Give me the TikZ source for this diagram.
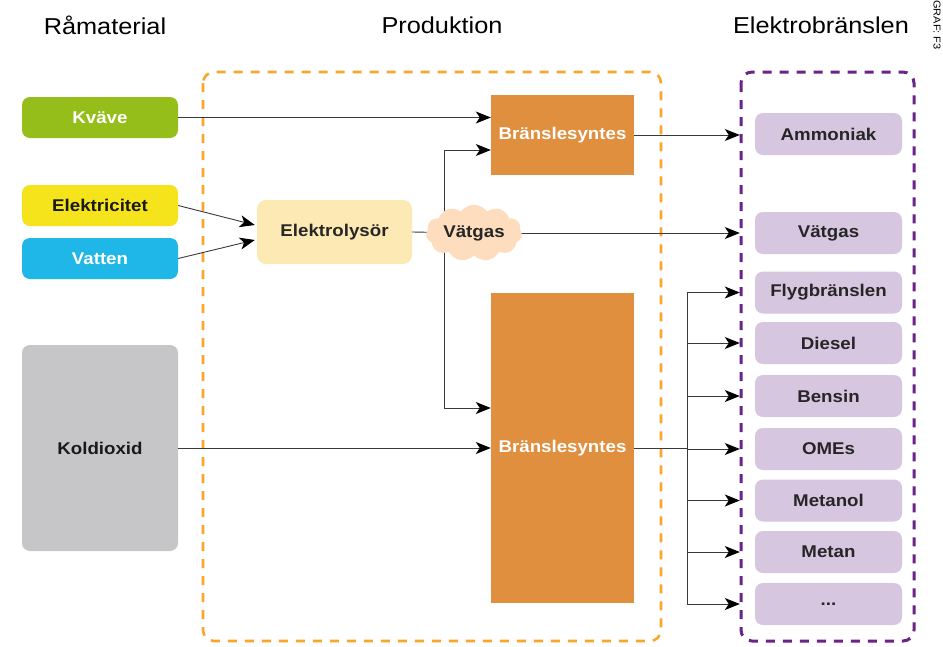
\documentclass[tikz,border=0pt]{standalone}
\usepackage{fontspec}
\setmainfont{Liberation Sans}[FakeStretch=1.1]
\usetikzlibrary{arrows.meta,shapes.symbols,calc}
\definecolor{cgreen}{HTML}{95BE1A}
\definecolor{cyellow}{HTML}{F5E41C}
\definecolor{cblue}{HTML}{1FB7E8}
\definecolor{cgrey}{HTML}{C6C6C8}
\definecolor{celyt}{HTML}{FDE9B4}
\definecolor{ccloud}{HTML}{FDDDBE}
\definecolor{corange}{HTML}{E08F3E}
\definecolor{cpurple}{HTML}{D7C6DF}
\definecolor{cdashor}{HTML}{F9A62B}
\definecolor{cdashpu}{HTML}{6B2387}
\definecolor{cline}{HTML}{3A3A3A}
\tikzset{
  lbl/.style={font=\fontsize{17}{20}\selectfont\bfseries},
  title/.style={font=\fontsize{23}{27}\selectfont},
  srcbox/.style={lbl, draw=none, rounded corners=8pt, minimum width=156pt, minimum height=41pt, inner sep=0pt},
  outbox/.style={lbl, text=black!85, fill=cpurple, rounded corners=8pt, minimum width=147pt, minimum height=42pt, inner sep=0pt},
  synbox/.style={lbl, text=white, fill=corange, minimum width=143pt, inner sep=0pt},
  conn/.style={draw=cline, line width=0.9pt},
  arr/.style={conn, -{Stealth[length=15pt,width=12pt,inset=4pt,color=black,fill=black]}},
  frame/.style={line width=3pt, dash pattern=on 9pt off 8pt, rounded corners=11pt},
}
\begin{document}
\begin{tikzpicture}[x=1pt,y=-1pt]
\useasboundingbox[fill=white] (0,0) rectangle (943,646);

% titles
\node[title] (t1) at (105,25) {Råmaterial};
\node[title] (t2) at (442,25) {Produktion};
\node[title] (t3) at (821,25) {Elektrobränslen};
\node[font=\fontsize{10}{12}\selectfont, rotate=-90] (graf) at (937,25) {GRAF: F3};

% frames
\draw[frame, draw=cdashor, line width=2.6pt] (203,72) rectangle (661,641);
\draw[frame, draw=cdashpu] (741,72) rectangle (914,641);

% sources
\node[srcbox, fill=cgreen, text=white] (kv) at (100,117.5) {Kväve};
\node[srcbox, fill=cyellow, text=black!90] (el) at (100,205.5) {Elektricitet};
\node[srcbox, fill=cblue, text=white] (va) at (100,258.5) {Vatten};
\node[srcbox, fill=cgrey, text=black!90, minimum height=206pt] (ko) at (100,448) {Koldioxid};

% production
\node[lbl, fill=celyt, text=black!85, rounded corners=9pt, minimum width=155pt, minimum height=64pt, inner sep=0pt] (ely) at (334.5,232) {Elektrolysör};
\node[synbox, minimum height=80pt] (bs1) at (562.5,135) {Bränslesyntes};
\node[synbox, minimum height=310pt] (bs2) at (562.5,448) {Bränslesyntes};

% outputs
\node[outbox] (amm) at (828.5,134) {Ammoniak};
\node[outbox] (vg) at (828.5,233) {Vätgas};
\node[outbox] (fly) at (828.5,292.5) {Flygbränslen};
\node[outbox] (die) at (828.5,343) {Diesel};
\node[outbox] (ben) at (828.5,396) {Bensin};
\node[outbox] (ome) at (828.5,449) {OMEs};
\node[outbox] (mol) at (828.5,500.5) {Metanol};
\node[outbox] (met) at (828.5,552) {Metan};
\node[outbox] (dots) at (828.5,604) {...};

% junction coordinates
\coordinate (jt) at (444,150);
\coordinate (jb) at (444,408);
\coordinate (sp) at (687,448);
\coordinate (vc) at (474,233);

% connectors behind cloud
\draw[conn] (ely.east) -- (vc);
\draw[conn] (jt) -- (jb);
\draw[arr, shorten >=15pt] (vc) -- (vc -| vg.west);

% cloud
\node[cloud, cloud puffs=11, cloud puff arc=110, aspect=1.9, fill=ccloud, draw=none, lbl, text=black!85, minimum width=96pt, minimum height=56pt, inner sep=0pt] (cl) at (vc) {Vätgas};

% inputs
\draw[arr] (kv.east) -- (kv.east -| bs1.west);
\draw[arr] (el.east) -- ($(ely.west)+(-2,-7)$);
\draw[arr] (va.east) -- ($(ely.west)+(-2,8)$);
\draw[arr] (ko.east) -- (bs2.west);
\draw[arr] (jt) -- (jt -| bs1.west);
\draw[arr] (jb) -- (jb -| bs2.west);

% outputs arrows
\draw[arr, shorten >=15pt] (bs1.east) -- (bs1.east -| amm.west);
\draw[conn] (bs2.east) -- (sp);
\draw[conn] (sp |- fly) -- (sp |- dots);
\foreach \n in {fly,die,ben,ome,mol,met,dots}{
  \draw[arr, shorten >=15pt] (sp |- \n) -- (\n.west);
}
\end{tikzpicture}
\end{document}
